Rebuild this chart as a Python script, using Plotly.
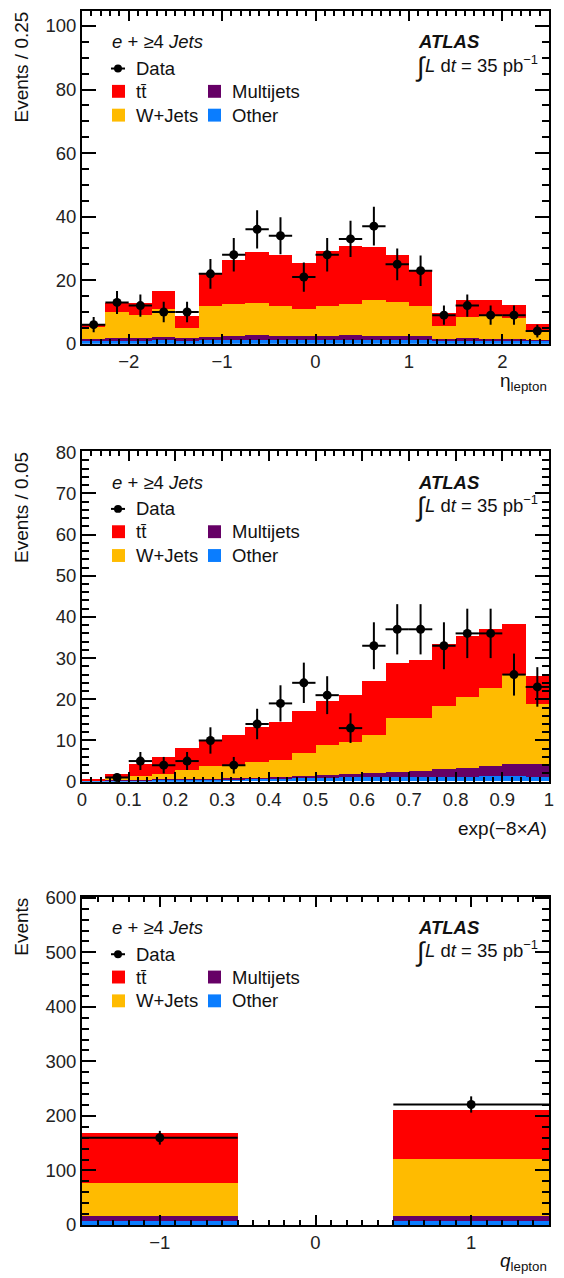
import plotly.graph_objects as go

# ---------------- data: panel 1 (eta_lepton, bins of 0.25) ----------------
eta_centers = [-2.375, -2.125, -1.875, -1.625, -1.375, -1.125, -0.875, -0.625, -0.375, -0.125,
               0.125, 0.375, 0.625, 0.875, 1.125, 1.375, 1.625, 1.875, 2.125, 2.375]
eta_halfwidth = [0.125] * 20
eta_data = [6, 13, 12, 10, 10, 22, 28, 36, 34, 21, 28, 33, 37, 25, 23, 9, 12, 9, 9, 4]
eta_err = [2.4, 3.6, 3.5, 3.2, 3.2, 4.7, 5.3, 6.0, 5.8, 4.6, 5.3, 5.7, 6.1, 5.0, 4.8, 3.0, 3.5, 3.0, 3.0, 2.0]
eta_other = [0.9, 1.0, 1.0, 1.1, 1.0, 1.2, 1.3, 1.3, 1.3, 1.3, 1.3, 1.3, 1.3, 1.3, 1.2, 1.0, 1.1, 1.1, 1.0, 0.9]
eta_multijets = [0.7, 0.8, 0.9, 0.9, 0.8, 1.0, 1.2, 1.4, 1.3, 1.3, 1.3, 1.4, 1.3, 1.2, 1.1, 0.4, 0.6, 0.5, 0.5, 0.3]
eta_wjets = [3.6, 8.1, 7.1, 9.0, 3.1, 9.8, 9.9, 10.1, 9.3, 8.2, 9.3, 9.8, 11.2, 10.6, 9.5, 4.2, 6.8, 7.0, 6.6, 2.6]
eta_ttbar = [1.1, 2.9, 3.7, 5.5, 3.7, 10.4, 13.9, 16.0, 16.0, 14.5, 17.2, 18.2, 16.7, 14.8, 11.2, 4.0, 5.3, 5.2, 4.1, 2.4]

# ---------------- data: panel 2 (exp(-8A), bins of 0.05) ----------------
ap_centers = [0.025, 0.075, 0.125, 0.175, 0.225, 0.275, 0.325, 0.375, 0.425, 0.475,
              0.525, 0.575, 0.625, 0.675, 0.725, 0.775, 0.825, 0.875, 0.925, 0.975]
ap_halfwidth = [0.025] * 20
ap_data = [None, 1, 5, 4, 5, 10, 4, 14, 19, 24, 21, 13, 33, 37, 37, 33, 36, 36, 26, 23]
ap_err = [None, 1.0, 2.2, 2.0, 2.2, 3.2, 2.0, 3.7, 4.4, 4.9, 4.6, 3.6, 5.7, 6.1, 6.1, 5.7, 6.0, 6.0, 5.1, 4.8]
ap_other = [0.1, 0.2, 0.3, 0.35, 0.4, 0.45, 0.5, 0.6, 0.7, 0.8, 0.9, 1.0, 1.0, 1.0, 1.1, 1.1, 1.1, 1.2, 1.2, 1.1]
ap_multijets = [0.05, 0.1, 0.1, 0.15, 0.2, 0.2, 0.2, 0.3, 0.3, 0.4, 0.6, 0.7, 0.9, 1.2, 1.5, 1.8, 2.1, 2.6, 3.1, 3.0]
ap_wjets = [0.05, 0.5, 0.8, 1.3, 2.1, 2.95, 2.9, 3.8, 4.2, 5.7, 7.2, 7.9, 9.3, 13.1, 12.7, 15.5, 17.3, 18.8, 21.4, 14.6]
ap_ttbar = [0.2, 1.0, 3.1, 4.2, 5.5, 6.4, 7.7, 8.6, 9.1, 10.2, 10.8, 11.4, 13.1, 13.5, 14.2, 14.9, 14.7, 14.4, 12.5, 6.8]

# ---------------- data: panel 3 (q_lepton, bins of 1) ----------------
q_centers = [-1, 0, 1]
q_halfwidth = [0.5, 0.5, 0.5]
q_data = [160, None, 221]
q_err = [12.6, None, 14.9]
q_other = [8, 0, 8]
q_multijets = [9, 0, 9]
q_wjets = [61, 0, 104]
q_ttbar = [92, 0, 91]

# ---------------- style ----------------
FONT = "Liberation Sans, Arial, Helvetica, sans-serif"
FS = 18.5
COL_TT = "#FF0000"
COL_W = "#FFBB00"
COL_MJ = "#660066"
COL_OT = "#0A7DFF"

W, H = 564, 1278
ML, MR, MT, MB = 82, 15, 1, 53
PW = W - ML - MR
PH = H - MT - MB


def px(xp):
    return (xp - ML) / PW


def py(yp):
    return (H - MB - yp) / PH


# panel pixel extents (top, bottom)
panels = [(1, 336.5), (445, 778), (894, 1225)]

fig = go.Figure()

series = [
    (eta_centers, eta_halfwidth, eta_data, eta_err, eta_other, eta_multijets, eta_wjets, eta_ttbar),
    (ap_centers, ap_halfwidth, ap_data, ap_err, ap_other, ap_multijets, ap_wjets, ap_ttbar),
    (q_centers, q_halfwidth, q_data, q_err, q_other, q_multijets, q_wjets, q_ttbar),
]

for i, (xc, hw, dat, err, oth, mj, wj, tt) in enumerate(series):
    xa = "x" if i == 0 else f"x{i+1}"
    ya = "y" if i == 0 else f"y{i+1}"
    widths = [2 * h for h in hw]
    for vals, col, name in [(oth, COL_OT, "Other"), (mj, COL_MJ, "Multijets"),
                            (wj, COL_W, "W+Jets"), (tt, COL_TT, "tt̄")]:
        fig.add_trace(go.Bar(x=xc, y=vals, width=widths, marker=dict(color=col, line=dict(width=0)),
                             name=name, showlegend=False, xaxis=xa, yaxis=ya))
    fig.add_trace(go.Scatter(x=xc, y=dat, mode="markers", name="Data", showlegend=False,
                             marker=dict(color="black", size=9),
                             error_y=dict(type="data", array=err, color="black", thickness=2, width=0),
                             error_x=dict(type="data", array=hw, color="black", thickness=2, width=0),
                             xaxis=xa, yaxis=ya))


def xaxis_cfg(rng, dtick, tick0, minor_dtick, anchor):
    return dict(range=rng, domain=[0, 1], anchor=anchor, tickmode="linear", tick0=tick0, dtick=dtick,
                ticks="inside", ticklen=10, tickwidth=1.5, tickcolor="black",
                showline=True, linewidth=2, linecolor="black", mirror="ticks",
                showgrid=False, zeroline=False,
                tickfont=dict(family=FONT, size=FS, color="#222"),
                minor=dict(ticks="inside", dtick=minor_dtick, tick0=tick0, ticklen=5, tickwidth=1.5,
                           tickcolor="black", showgrid=False))


def yaxis_cfg(rng, dtick, minor_dtick, dom, anchor):
    return dict(range=rng, domain=dom, anchor=anchor, tickmode="linear", tick0=0, dtick=dtick,
                ticks="inside", ticklen=14, tickwidth=1.5, tickcolor="black",
                showline=True, linewidth=2, linecolor="black", mirror="ticks",
                showgrid=False, zeroline=False,
                tickfont=dict(family=FONT, size=FS, color="#222"),
                minor=dict(ticks="inside", dtick=minor_dtick, tick0=0, ticklen=7, tickwidth=1.5,
                           tickcolor="black", showgrid=False))


doms = [[py(b), py(t)] for (t, b) in panels]
doms[0][1] = min(1.0, doms[0][1])
doms[2][0] = max(0.0, doms[2][0])

fig.update_layout(
    width=W, height=H, margin=dict(l=ML, r=MR, t=MT, b=MB),
    paper_bgcolor="white", plot_bgcolor="white",
    barmode="stack", bargap=0, showlegend=False,
    font=dict(family=FONT, size=FS, color="#222"),
    xaxis=xaxis_cfg([-2.5, 2.5], 1, -2, 0.1, "y"),
    yaxis=yaxis_cfg([0, 104.7], 20, 5, doms[0], "x"),
    xaxis2=xaxis_cfg([0, 1], 0.1, 0, 0.02, "y2"),
    yaxis2=yaxis_cfg([0, 80.2], 10, 2, doms[1], "x2"),
    xaxis3=xaxis_cfg([-1.5, 1.5], 1, -1, 0.1, "y3"),
    yaxis3=yaxis_cfg([0, 602], 100, 20, doms[2], "x3"),
)

annots = []
shapes = []


def text(xp, yp, s, xanchor="left", yanchor="middle", size=FS, angle=0, color="#111"):
    annots.append(dict(x=px(xp), y=py(yp), xref="paper", yref="paper", text=s, showarrow=False,
                       xanchor=xanchor, yanchor=yanchor, textangle=angle,
                       font=dict(family=FONT, size=size, color=color)))


ytitles = ["Events / 0.25", "Events / 0.05", "Events"]
xtitles = ["η<sub>lepton</sub>", "exp(−8×<i>A</i>)", "<i>q</i><sub>lepton</sub>"]
xtitle_y = [375, 825, 1262]

for i, (top, bot) in enumerate(panels):
    # axis titles
    text(22, top - 1, ytitles[i], xanchor="center", yanchor="top", angle=-90, size=19)
    text(549, xtitle_y[i], xtitles[i], xanchor="right", yanchor="middle", size=19)
    # legend block
    text(110, top + 31, "<i>e</i> + ≥4 <i>Jets</i>")
    # data entry
    shapes.append(dict(type="line", xref="paper", yref="paper", x0=px(111), x1=px(125),
                       y0=py(top + 58), y1=py(top + 58), line=dict(color="black", width=2)))
    shapes.append(dict(type="circle", xref="paper", yref="paper", x0=px(114), x1=px(122),
                       y0=py(top + 62), y1=py(top + 54), fillcolor="black", line=dict(width=0)))
    text(134, top + 58, "Data")
    for (sx, sy, col, lab) in [(112, top + 81, COL_TT, "tt̄"), (208, top + 81, COL_MJ, "Multijets"),
                               (112, top + 105, COL_W, "W+Jets"), (208, top + 105, COL_OT, "Other")]:
        shapes.append(dict(type="rect", xref="paper", yref="paper", x0=px(sx), x1=px(sx + 13),
                           y0=py(sy + 6.5), y1=py(sy - 6.5), fillcolor=col, line=dict(width=0)))
        text(sx + 22, sy, lab)
    # ATLAS label
    text(416, top + 31, "<b><i>ATLAS</i></b>")
    text(413, top + 56, "∫", size=27)
    text(423, top + 53, "<i>L</i> d<i>t</i> = 35 pb<sup>−1</sup>")

fig.update_layout(annotations=annots, shapes=shapes)

fig.write_html("out.html", config={"displayModeBar": False},
               post_script="document.body.style.margin='0px';document.body.style.padding='0px';")
